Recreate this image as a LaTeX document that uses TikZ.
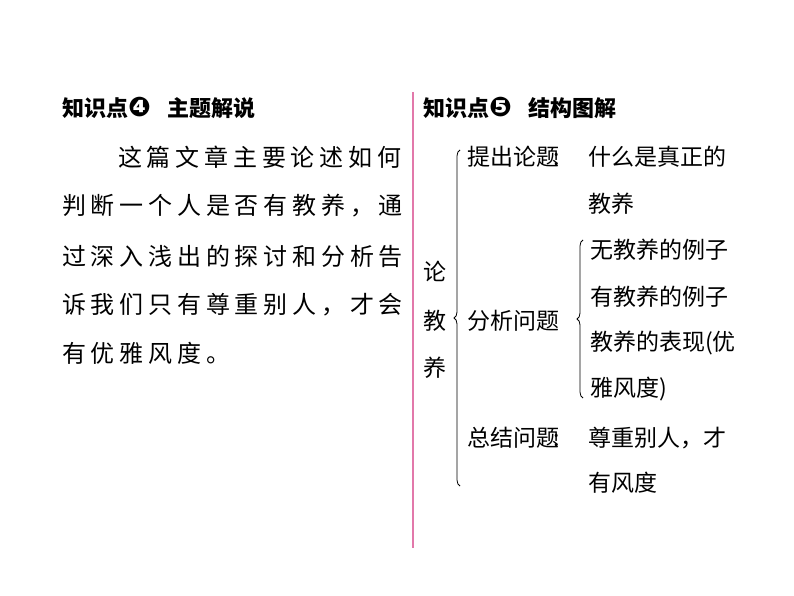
\documentclass[tikz,border=0pt]{standalone}
\usepackage{fontspec}
\setmainfont{Noto Sans CJK SC}
\newfontfamily\djfont{DejaVu Sans}
\usetikzlibrary{decorations.pathreplacing}
\begin{document}
\begin{tikzpicture}[x=1pt,y=-1pt,
  lt/.style={anchor=west,inner sep=0pt,font=\fontsize{24}{24}\selectfont\addfontfeatures{LetterSpace=20}},
  rt/.style={anchor=west,inner sep=0pt,font=\fontsize{23}{23}\selectfont},
  tt/.style={anchor=west,inner sep=0pt,font=\fontsize{22}{22}\selectfont\bfseries},
  br/.style={decorate,decoration={brace,amplitude=6pt,mirror},line width=0.8pt}]
\useasboundingbox (0,0) rectangle (794,596);
\node[tt] (t4) at (62,108) {知识点{\djfont\fontsize{27}{27}\selectfont ❹}\hspace{16pt}主题解说};
\node[lt] (l1) at (118,157) {这篇文章主要论述如何};
\node[lt] (l2) at (62,206) {判断一个人是否有教养，通};
\node[lt] (l3) at (62,256) {过深入浅出的探讨和分析告};
\node[lt] (l4) at (62,305) {诉我们只有尊重别人，才会};
\node[lt] (l5) at (62,353) {有优雅风度。};
\draw[line width=2.5pt,draw={rgb,255:red,226;green,120;blue,170}] (413,92) -- (413,548);
\node[tt] (t5) at (423,108) {知识点{\djfont\fontsize{27}{27}\selectfont ❺}\hspace{16pt}结构图解};
\node[rt] (a1) at (423,272) {论};
\node[rt] (a2) at (423,321) {教};
\node[rt] (a3) at (423,368) {养};
\coordinate (b1) at (460,150); \coordinate (b2) at (460,486);
\draw[br] (b1) -- (b2);
\node[rt] (p1) at (467,157) {提出论题\hspace{-6pt}:};
\node[rt] (p1a) at (588,157) {什么是真正的};
\node[rt] (p1b) at (588,204) {教养};
\node[rt] (p2) at (467,321) {分析问题};
\coordinate (c1) at (583,240); \coordinate (c2) at (583,398);
\draw[br] (c1) -- (c2);
\node[rt] (s1) at (590,250) {无教养的例子};
\node[rt] (s2) at (590,297) {有教养的例子};
\node[rt] (s3) at (590,343) {教养的表现(优};
\node[rt] (s4) at (590,389) {雅风度)};
\node[rt] (p3) at (467,438) {总结问题\hspace{-6pt}:};
\node[rt] (p3a) at (588,438) {尊重别人，才};
\node[rt] (p3b) at (588,483) {有风度};
\end{tikzpicture}
\end{document}
